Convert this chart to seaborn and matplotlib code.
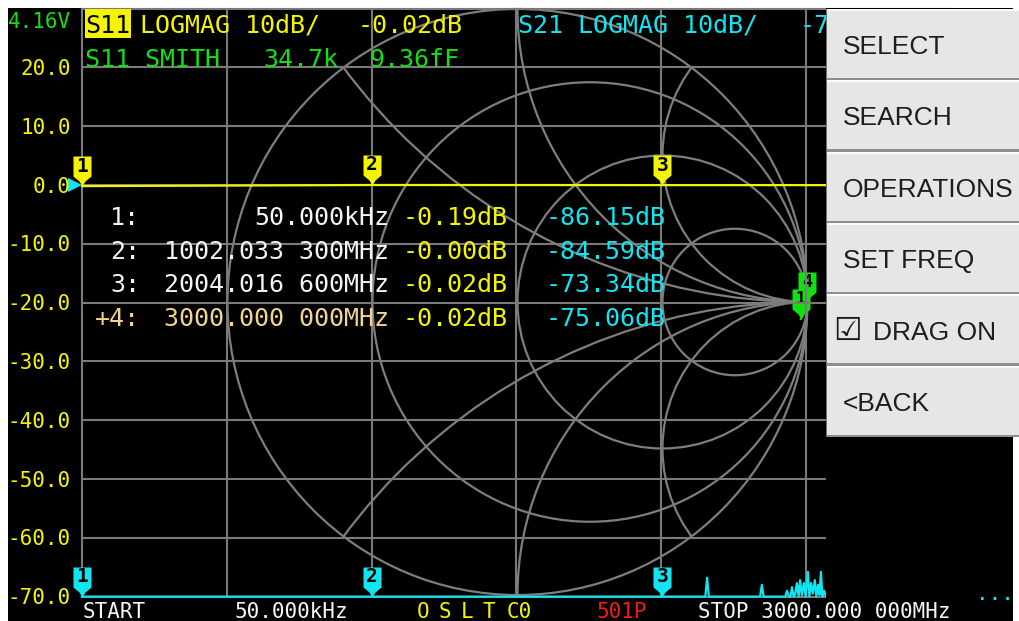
import numpy as np
import matplotlib
matplotlib.use("Agg")
import matplotlib.pyplot as plt
import seaborn as sns
from matplotlib.patches import Circle, Rectangle
from matplotlib.path import Path
from matplotlib.markers import MarkerStyle
from matplotlib.transforms import offset_copy

# ---------------- data ----------------
grid_freq_mhz = [0, 500, 1000, 1500, 2000, 2500]
grid_db = [30, 20, 10, 0, -10, -20, -30, -40, -50, -60, -70]
y_tick_db = [20, 10, 0, -10, -20, -30, -40, -50, -60, -70]
y_tick_labels = ["20.0", "10.0", "0.0", "-10.0", "-20.0", "-30.0",
                 "-40.0", "-50.0", "-60.0", "-70.0"]
start_mhz = 0.05
stop_mhz = 3000.0

s11_freq_mhz = [0.05, 1002.0333, 2004.0166, 3000.0]
s11_db = [-0.19, -0.00, -0.02, -0.02]
s11_phase_deg = [-3.4, -0.5, -0.2, -0.03]

s21_freq_mhz = [0.05, 250, 500, 750, 1002.0333, 1250, 1500, 1750, 2004.0166,
                2140, 2152, 2158, 2164, 2334, 2341, 2347, 2353,
                2422, 2428, 2434, 2440, 2446, 2451, 2457, 2462, 2468, 2474,
                2479, 2485, 2492, 2498, 2506, 2511, 2517, 2523, 2530, 2535,
                2541, 2546, 2551, 2556, 2562, 2568, 2600, 2800, 3000.0]
s21_db = [-86.15, -88.0, -85.0, -87.0, -84.59, -83.0, -82.0, -80.0, -73.34,
          -74.0, -73.0, -66.8, -73.0, -74.0, -73.5, -68.0, -74.0,
          -72.0, -70.5, -69.0, -71.5, -70.2, -68.4, -70.8, -69.6, -67.7, -70.4,
          -67.2, -69.8, -67.7, -70.1, -65.8, -70.3, -67.7, -69.5, -67.2, -70.0,
          -68.0, -69.7, -65.8, -70.2, -69.0, -71.0, -72.0, -74.0, -75.06]

marker_ids = [1, 2, 3, 4]
marker_freq_mhz = [0.05, 1002.0333, 2004.0166, 3000.0]
marker_freq_text = ["50.000kHz", "1002.033 300MHz", "2004.016 600MHz", "3000.000 000MHz"]
marker_s11_db = [-0.19, -0.00, -0.02, -0.02]
marker_s11_phase_deg = [-3.4, -0.5, -0.2, -0.03]
marker_s21_db = [-86.15, -84.59, -73.34, -75.06]
active_marker = 4
smith_visible_markers = [4, 1]   # 2 and 3 sit hidden under marker 4

smith_r_circles = [1 / 3, 1.0, 3.0]
smith_x_arcs = [0.5, 1.0, 2.0]

battery_text = "4.16V"
smith_info = ["34.7k", "9.36fF"]
menu_items = ["SELECT", "SEARCH", "OPERATIONS", "SET FREQ", "DRAG ON", "<BACK"]
bottom_start = "50.000kHz"
bottom_stop = "3000.000 000MHz"
points_text = "501P"
cal_letters = ["O", "S", "L", "T"]
cal_slot = "C0"

# ---------------- style ----------------
W, H = 1019, 621
MONO = "DejaVu Sans Mono"
YEL = "#f4f400"
CYAN = "#10e6f2"
GREEN = "#12e012"
WHITE = "#f4f4f4"
ORANGE = "#f2d48e"
RED = "#ee1c1c"
GRID = "#7a7a7a"
SMITH = "#7e7e7e"
BIG = 18.0   # pt
SMALL = 15.0  # pt
CAP_MONO = 0.729

fig = plt.figure(figsize=(W / 100, H / 100), dpi=100)
fig.patch.set_facecolor("white")


def px_axes(x0, y0, x1, y1, z):
    a = fig.add_axes([x0 / W, 1 - y1 / H, (x1 - x0) / W, (y1 - y0) / H])
    a.set_zorder(z)
    a.patch.set_alpha(0)
    a.axis("off")
    return a


# background
bg = px_axes(0, 0, W, H, 0)
bg.set_xlim(0, W)
bg.set_ylim(H, 0)
bg.add_patch(Rectangle((8, 8), 1005, 613, color="black", lw=0))

# ---------------- Smith chart ----------------
axs = px_axes(227.5, 9, 807.5, 595, 2)
axs.set_xlim(-1, 1)
axs.set_ylim(-1, 1)
clip = Circle((0, 0), 1.0, transform=axs.transData)
axs.add_patch(Circle((0, 0), 1.0, fill=False, ec=SMITH, lw=1.6, clip_on=False))
for r in smith_r_circles:
    c = Circle((r / (1 + r), 0), 1 / (1 + r), fill=False, ec=SMITH, lw=1.6)
    axs.add_patch(c)
    c.set_clip_path(clip)
for xv in smith_x_arcs:
    for sgn in (1, -1):
        c = Circle((1, sgn / xv), 1 / xv, fill=False, ec=SMITH, lw=1.6)
        axs.add_patch(c)
        c.set_clip_path(clip)

g_mag = 10 ** (np.array(s11_db) / 20)
g_ph = np.deg2rad(s11_phase_deg)
sns.lineplot(x=g_mag * np.cos(g_ph), y=g_mag * np.sin(g_ph), sort=False,
             color=GREEN, lw=1.5, ax=axs, clip_on=False, legend=False)
axs.set_xlim(-1, 1)
axs.set_ylim(-1, 1)
axs.axis("off")

# marker shape (pixel units, tip at origin)
mk_verts = [(-9, 30), (9, 30), (9, 10), (3, 5), (0, 0), (-3, 5), (-9, 10), (-9, 30)]
mk = MarkerStyle(Path(mk_verts, closed=True))
MK_SIZE = 2 * 30 * 72 / 100.0


def draw_marker(a, x, y, num, color, z, fs=14):
    a.plot([x], [y], linestyle="none", marker=mk, markersize=MK_SIZE,
           markerfacecolor=color, markeredgewidth=0, clip_on=False, zorder=z)
    a.annotate(str(num), xy=(x, y), xytext=(0, 20), textcoords="offset pixels",
               ha="center", va="center", fontsize=fs, fontfamily=MONO,
               fontweight="bold", color="black", zorder=z + 0.1,
               annotation_clip=False)


m_mag = 10 ** (np.array(marker_s11_db) / 20)
m_ph = np.deg2rad(marker_s11_phase_deg)
for k, mid in enumerate(smith_visible_markers):
    i = marker_ids.index(mid)
    draw_marker(axs, m_mag[i] * np.cos(m_ph[i]), m_mag[i] * np.sin(m_ph[i]),
                mid, GREEN, 5 + k, fs=12)

# ---------------- rectangular plot ----------------
ax = px_axes(82, 8.6, 951, 596.6, 3)
for f in grid_freq_mhz:
    ax.axvline(max(f, start_mhz), color=GRID, lw=1.5, clip_on=False, zorder=1)
for d in grid_db:
    ax.axhline(d, color=GRID, lw=1.5, clip_on=False, zorder=1)

s21_disp = np.clip(s21_db, -70, 30)
sns.lineplot(x=s21_freq_mhz, y=s21_disp, color=CYAN, lw=1.6, ax=ax,
             clip_on=False, legend=False, zorder=3)
sns.lineplot(x=s11_freq_mhz, y=np.clip(s11_db, -70, 30), color=YEL, lw=1.6,
             ax=ax, clip_on=False, legend=False, zorder=4)
ax.set_xlim(start_mhz, stop_mhz)
ax.set_ylim(-70, 30)
ax.axis("off")

for i in range(4):
    draw_marker(ax, marker_freq_mhz[i], np.clip(marker_s11_db[i], -70, 30),
                marker_ids[i], YEL, 6)
    draw_marker(ax, marker_freq_mhz[i], np.clip(marker_s21_db[i], -70, 30),
                marker_ids[i], CYAN, 6)

# reference position indicator
ref_tr = offset_copy(ax.transData, fig=fig, x=-7, y=0, units="dots")
ax.plot([start_mhz], [0], marker=">", markersize=10, color=CYAN,
        markeredgewidth=0, transform=ref_tr, clip_on=False, zorder=6)

# ---------------- overlay: text & menu ----------------
ov = px_axes(0, 0, W, H, 4)
ov.set_xlim(0, W)
ov.set_ylim(H, 0)

# hide plot area right of the visible graph
ov.add_patch(Rectangle((826, 8), 187, 590, color="black", lw=0, zorder=1))


def txt(x, yc, s, color, size=BIG, ha="left", family=MONO, cap=CAP_MONO, z=5, **kw):
    ov.text(x, yc + cap * size * 100 / 72 / 2, s, color=color, fontsize=size,
            family=family, ha=ha, va="baseline", zorder=z, **kw)


# y labels
ydisp = lambda d: 185 - 5.88 * d
for d, lab in zip(y_tick_db, y_tick_labels):
    txt(71, ydisp(d), lab, YEL, SMALL, ha="right")

# header
txt(8, 20, battery_text, GREEN, SMALL)
ov.add_patch(Rectangle((85, 9), 46, 29, color=YEL, lw=0, zorder=4))
txt(85.5, 23.5, "S11", "black")
txt(140, 23.5, "LOGMAG 10dB/", YEL)
am = active_marker - 1
txt(358, 23.5, f"{marker_s11_db[am]:.2f}dB", YEL)
txt(518, 23.5, "S21 LOGMAG 10dB/", CYAN)
txt(800, 23.5, f"{marker_s21_db[am]:.2f}dB", CYAN)
txt(85, 58, "S11 SMITH", GREEN)
txt(263, 58, smith_info[0], GREEN)
txt(370, 58, smith_info[1], GREEN)

# marker table
row_y = [216, 249.5, 283, 316.5]
for i in range(4):
    col = ORANGE if marker_ids[i] == active_marker else WHITE
    lab = ("+" if marker_ids[i] == active_marker else "") + f"{marker_ids[i]}:"
    txt(140, row_y[i], lab, col, ha="right")
    txt(389, row_y[i], marker_freq_text[i], col, ha="right")
    txt(403, row_y[i], f"{marker_s11_db[i]:.2f}dB", YEL)
    txt(546, row_y[i], f"{marker_s21_db[i]:.2f}dB", CYAN)

# bottom line
yb = 610
txt(83, yb, "START", WHITE, SMALL)
txt(235, yb, bottom_start, WHITE, SMALL)
for k, ch in enumerate(cal_letters):
    txt(417 + 22 * k, yb, ch, YEL, SMALL)
txt(507, yb, cal_slot, YEL, SMALL)
txt(597, yb, points_text, RED, SMALL)
txt(698, yb, "STOP " + bottom_stop, WHITE, SMALL)
txt(976, 598, "\u00b7\u00b7\u00b7", CYAN, SMALL)

# menu
top, step = 9.0, 71.35
for i, item in enumerate(menu_items):
    y0 = top + step * i
    ov.add_patch(Rectangle((827, y0), 192, step, fc="#e6e6e6", lw=0, zorder=10))
    ov.add_patch(Rectangle((827, y0), 192, 2, fc="#fbfbfb", lw=0, zorder=11))
    ov.add_patch(Rectangle((827, y0 + step - 2.5), 192, 2.5, fc="#8e8e8e", lw=0, zorder=11))
    yc = y0 + step / 2
    if item == "DRAG ON":
        ov.text(833, yc + 1, "\u2611", fontsize=23, family=["DejaVu Sans"],
                color="#1a1a1a", ha="left", va="center", zorder=12)
        txt(873, yc, item, "#1e1e1e", 19, family=["Liberation Sans", "DejaVu Sans"],
            cap=0.716, z=12)
    else:
        txt(843, yc, item, "#1e1e1e", 19, family=["Liberation Sans", "DejaVu Sans"],
            cap=0.716, z=12)
ov.add_patch(Rectangle((826, top), 1.5, step * 6, fc="#6e6e6e", lw=0, zorder=12))

fig.savefig("out.png", dpi=100, facecolor=fig.get_facecolor())
